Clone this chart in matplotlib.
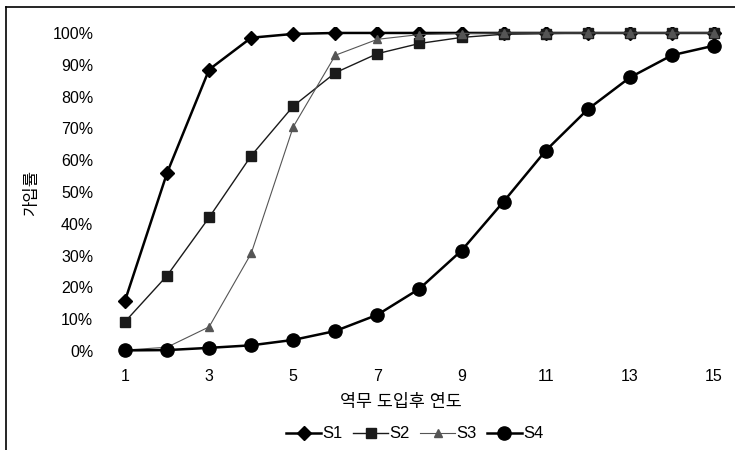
import numpy as np
import matplotlib.pyplot as plt
from matplotlib.lines import Line2D

plt.rcParams['font.family'] = ['Liberation Sans', 'Noto Sans CJK KR']

years = np.arange(1, 16)
s1 = [15.8, 56, 88.5, 98.5, 99.7, 100, 100, 100, 100, 100, 100, 100, 100, 100, 100]
s2 = [9.2, 23.7, 42, 61.4, 77, 87.5, 93.5, 96.7, 98.6, 99.6, 99.8, 100, 100, 100, 100]
s3 = [0.3, 1.2, 7.6, 30.7, 70.5, 93, 98, 99.5, 99.8, 100, 100, 100, 100, 100, 100]
s4 = [0.2, 0.3, 1, 1.8, 3.5, 6.3, 11.4, 19.6, 31.6, 47, 63, 76, 86, 93, 96]
xticks = [1, 3, 5, 7, 9, 11, 13, 15]
yticks = list(range(0, 101, 10))

fig = plt.figure(figsize=(7.35, 4.5), dpi=100)
# 0% at y=351px, 100% at y=33px
ax = fig.add_axes([110 / 735, 1 - 357.4 / 450, 620 / 735, 330.8 / 450])

ax.plot(years, s1, color='black', lw=1.8, marker='D', ms=7, label='S1')
ax.plot(years, s2, color='#1a1a1a', lw=1.0, marker='s', ms=7, label='S2')
ax.plot(years, s3, color='#555555', lw=0.8, marker='^', ms=6, label='S3')
ax.plot(years, s4, color='black', lw=1.8, marker='o', ms=9.5, label='S4')

ax.set_xlim(0.644, 15.38)
ax.set_ylim(-2, 102)
ax.set_xticks(xticks)
ax.set_yticks(yticks)
ax.set_yticklabels([f'{v}%' for v in yticks])
ax.tick_params(length=0, labelsize=11.5)
ax.tick_params(axis='y', pad=12)
ax.tick_params(axis='x', pad=8)
for s in ax.spines.values():
    s.set_visible(False)

ax.set_xlabel('역무 도입후 연도', fontsize=12.5, va='center')
ax.xaxis.set_label_coords((401 - 110) / 620, -(402 - 357.4) / 330.8)
ax.set_ylabel('가입률', fontsize=12, va='center')
ax.yaxis.set_label_coords(-(110 - 32) / 620, (357.4 - 193) / 330.8)

fig.legend(loc='center', bbox_to_anchor=(415 / 735, 1 - 434 / 450), ncol=4,
           frameon=False, fontsize=12, handlelength=2.1, handletextpad=0.1,
           columnspacing=0.6)

fig.add_artist(Line2D([6 / 735, 1], [1 - 6.5 / 450, 1 - 6.5 / 450], color='black', lw=1.2))
fig.add_artist(Line2D([6 / 735, 6 / 735], [0, 1 - 6.5 / 450], color='black', lw=1.2))

fig.savefig('out.png', dpi=100)
